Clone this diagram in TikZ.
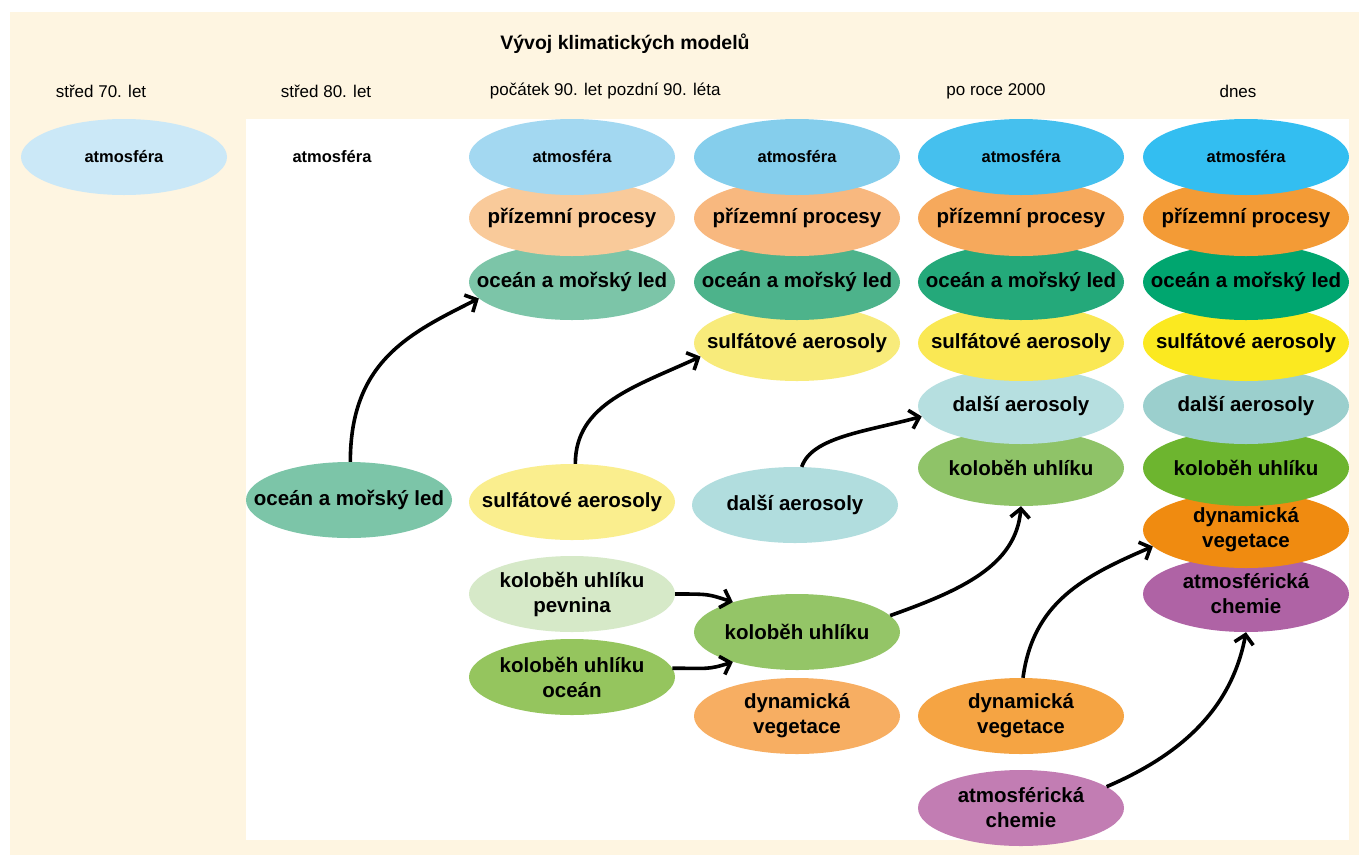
\documentclass[tikz,border=0pt]{standalone}
\usepackage{fontspec}
\setmainfont{Liberation Sans}
\usetikzlibrary{arrows.meta,shapes.geometric}

\definecolor{cream}{HTML}{FEF5E1}
\definecolor{atmA}{HTML}{CBE8F7}
\definecolor{atmB}{HTML}{A3D8F1}
\definecolor{atmC}{HTML}{85CEEC}
\definecolor{atmD}{HTML}{45C0EE}
\definecolor{atmE}{HTML}{33BEF1}
\definecolor{landB}{HTML}{F9CA9A}
\definecolor{landC}{HTML}{F8B87F}
\definecolor{landD}{HTML}{F6A95C}
\definecolor{landE}{HTML}{F39B36}
\definecolor{oceanB}{HTML}{7CC5A8}
\definecolor{oceanC}{HTML}{4DB38B}
\definecolor{oceanD}{HTML}{24A97A}
\definecolor{oceanE}{HTML}{00A66F}
\definecolor{sulfB}{HTML}{FAEE8E}
\definecolor{sulfC}{HTML}{F8EB7B}
\definecolor{sulfD}{HTML}{FAE854}
\definecolor{sulfE}{HTML}{FBE920}
\definecolor{otherC}{HTML}{B1DDDE}
\definecolor{otherD}{HTML}{B6DFE0}
\definecolor{otherE}{HTML}{9BCFCD}
\definecolor{carbLand}{HTML}{D6E9C8}
\definecolor{carbOcean}{HTML}{95C55E}
\definecolor{carbC}{HTML}{94C567}
\definecolor{carbD}{HTML}{8FC368}
\definecolor{carbE}{HTML}{6DB52F}
\definecolor{vegC}{HTML}{F7AE62}
\definecolor{vegD}{HTML}{F5A443}
\definecolor{vegE}{HTML}{F08B10}
\definecolor{chemD}{HTML}{C27DB3}
\definecolor{chemE}{HTML}{AF63A5}

\begin{document}
\begin{tikzpicture}[
			x=1pt, y=-1pt,
			compnode/.style={
				ellipse,
				minimum width=206pt,
				minimum height=76pt,
				inner xsep=-60pt,
				inner ysep=0pt,
				align=center,
				font=\fontsize{20.5}{25}\selectfont\bfseries
			},
			atmnode/.style={
				compnode,
				font=\fontsize{16.5}{19}\selectfont\bfseries
			},
			headnode/.style={
				font=\fontsize{17}{20}\selectfont
			},
			arrow/.style={
				-{Straight Barb[length=9pt,width=19pt]},
				line width=3.6pt,
				draw=black
			}
			]
			\useasboundingbox (0,0) rectangle (1359,855);
			\fill[white] (0,0) rectangle (1359,855);
			\fill[cream] (10,12) rectangle (1359,855);
			\fill[white] (246,119) rectangle (1349,840);
			
			\node[font=\fontsize{19.5}{22}\selectfont\bfseries] (title) at (625,44) {Vývoj klimatických modelů};
			\node[headnode] (h70) at (101,91) {střed 70. let};
			\node[headnode] (h80) at (326,91) {střed 80. let};
			\node[headnode] (h90a) at (546,91) {počátek 90. let};
			\node[headnode] (h90b) at (664,91) {pozdní 90. léta};
			\node[headnode] (h2000) at (996,91) {po roce 2000};
			\node[headnode] (hnow) at (1238,91) {dnes};
			
			% střed 70. let
			\node[atmnode, fill=atmA] (c1atm) at (124,157) {atmosféra};
			
			% střed 80. let
			\node[atmnode] (c2atm) at (332,157) {atmosféra};
			\node[compnode, fill=oceanB] (c2ocean) at (349,500) {oceán a mořský led};
			
			% počátek 90. let
			\node[compnode, fill=carbOcean] (c3carbocean) at (572,677) {koloběh uhlíku\\oceán};
			\node[compnode, fill=carbLand] (c3carbland) at (572,594) {koloběh uhlíku\\pevnina};
			\node[compnode, fill=sulfB] (c3sulf) at (572,502) {sulfátové aerosoly};
			\node[compnode, fill=oceanB] (c3ocean) at (572,282) {oceán a mořský led};
			\node[compnode, fill=landB] (c3land) at (572,218) {přízemní procesy};
			\node[atmnode, fill=atmB] (c3atm) at (572,157) {atmosféra};
			
			% pozdní 90. léta
			\node[compnode, fill=vegC] (c4veg) at (797,716) {dynamická\\vegetace};
			\node[compnode, fill=carbC] (c4carb) at (797,632) {koloběh uhlíku};
			\node[compnode, fill=otherC] (c4other) at (795,505) {další aerosoly};
			\node[compnode, fill=sulfC] (c4sulf) at (797,343) {sulfátové aerosoly};
			\node[compnode, fill=oceanC] (c4ocean) at (797,282) {oceán a mořský led};
			\node[compnode, fill=landC] (c4land) at (797,218) {přízemní procesy};
			\node[atmnode, fill=atmC] (c4atm) at (797,157) {atmosféra};
			
			% po roce 2000
			\node[compnode, fill=chemD] (c5chem) at (1021,808) {atmosférická\\chemie};
			\node[compnode, fill=vegD] (c5veg) at (1021,716) {dynamická\\vegetace};
			\node[compnode, fill=carbD] (c5carb) at (1021,468) {koloběh uhlíku};
			\node[compnode, fill=otherD] (c5other) at (1021,406) {další aerosoly};
			\node[compnode, fill=sulfD] (c5sulf) at (1021,343) {sulfátové aerosoly};
			\node[compnode, fill=oceanD] (c5ocean) at (1021,282) {oceán a mořský led};
			\node[compnode, fill=landD] (c5land) at (1021,218) {přízemní procesy};
			\node[atmnode, fill=atmD] (c5atm) at (1021,157) {atmosféra};
			
			% dnes
			\node[compnode, fill=chemE] (c6chem) at (1246,594) {atmosférická\\chemie};
			\node[compnode, fill=vegE] (c6veg) at (1246,530) {dynamická\\vegetace};
			\node[compnode, fill=carbE] (c6carb) at (1246,468) {koloběh uhlíku};
			\node[compnode, fill=otherE] (c6other) at (1246,406) {další aerosoly};
			\node[compnode, fill=sulfE] (c6sulf) at (1246,343) {sulfátové aerosoly};
			\node[compnode, fill=oceanE] (c6ocean) at (1246,282) {oceán a mořský led};
			\node[compnode, fill=landE] (c6land) at (1246,218) {přízemní procesy};
			\node[atmnode, fill=atmE] (c6atm) at (1246,157) {atmosféra};
			
			\draw[arrow] (c2ocean.88) .. controls +(0,-100) and +(-70,35) .. (c3ocean.190);
			\draw[arrow] (c3sulf.85) .. controls +(0,-60) and +(-65,30) .. (c4sulf.188);
			\draw[arrow] (c4other.80) .. controls +(10,-30) and +(-55,15) .. (c5other.186);
			\draw[arrow] (c3carbland.east) .. controls +(35,0) and +(-25,-8) .. (c4carb.155);
			\draw[arrow] (c3carbocean.5) .. controls +(35,0) and +(-25,8) .. (c4carb.205);
			\draw[arrow] (c4carb.10) .. controls +(70,-25) and +(-5,60) .. (c5carb.south);
			\draw[arrow] (c5veg.87) .. controls +(10,-75) and +(-70,30) .. (c6veg.190);
			\draw[arrow] (c5chem.14) .. controls +(70,-30) and +(-15,80) .. (c6chem.south);
		\end{tikzpicture}
\end{document}
